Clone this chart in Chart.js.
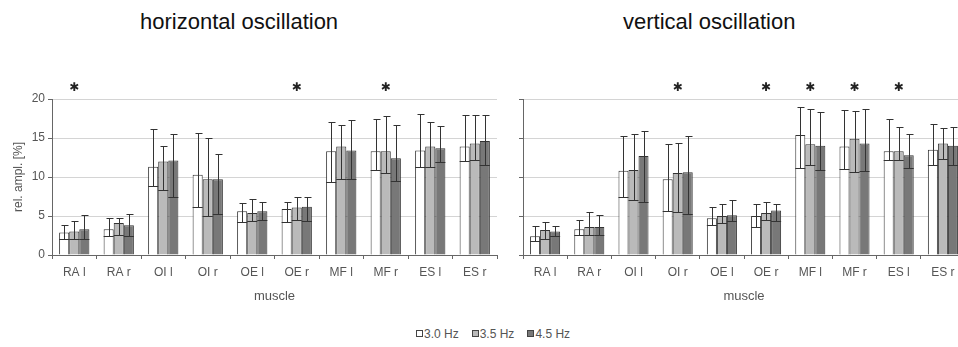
<!DOCTYPE html>
<html>
<head>
<meta charset="utf-8">
<script src="https://cdn.jsdelivr.net/npm/chart.js@4.4.0/dist/chart.umd.min.js"></script>
<style>
  body { margin: 0; width: 958px; height: 347px; overflow: hidden; background: #fff; font-family: "Liberation Sans", Arial, sans-serif; position: relative; }
  .title { position: absolute; top: 9px; font-size: 22px; color: #111; white-space: nowrap; }
  #wrapL { position: absolute; left: 0; top: 0; }
  #wrapR { position: absolute; left: 500px; top: 0; }
  #legend { position: absolute; top: 327px; left: 416px; font-size: 12px; color: #555; white-space: nowrap; }
  #legend span.item { display: inline-block; margin-right: 13px; }
  #legend span.box { display: inline-block; width: 5px; height: 5px; border: 1px solid #444; margin-right: 1px; vertical-align: 1px; }
</style>
</head>
<body>
<div class="title" style="left:140px">horizontal oscillation</div>
<div class="title" style="left:623px">vertical oscillation</div>
<div id="wrapL"><canvas id="chartL" width="500" height="310"></canvas></div>
<div id="wrapR"><canvas id="chartR" width="470" height="310"></canvas></div>
<div id="legend"></div>
<script>
const muscles = ['RA l', 'RA r', 'OI l', 'OI r', 'OE l', 'OE r', 'MF l', 'MF r', 'ES l', 'ES r'];
const freqs = ['3.0 Hz', '3.5 Hz', '4.5 Hz'];
const colors = ['#ffffff', '#bababa', '#787878'];
const yTicks = [0, 5, 10, 15, 20];

// horizontal oscillation: mean, upper whisker, lower line
const horMean30 = [2.9, 3.3, 11.3, 10.3, 5.6, 5.9, 13.3, 13.3, 13.4, 13.9];
const horMean35 = [3.0, 4.1, 12.0, 9.7, 5.4, 6.1, 13.9, 13.3, 13.9, 14.3];
const horMean45 = [3.3, 3.8, 12.1, 9.7, 5.6, 6.2, 13.4, 12.4, 13.7, 14.6];
const horUp30 = [3.9, 4.8, 16.1, 15.6, 6.7, 6.8, 17.0, 17.5, 18.1, 17.9];
const horUp35 = [4.4, 4.8, 14.0, 15.0, 7.2, 7.4, 16.7, 17.8, 17.0, 17.9];
const horUp45 = [5.1, 5.3, 15.5, 12.9, 6.8, 7.4, 17.3, 16.7, 16.5, 18.0];
const horLow30 = [2.0, 2.4, 8.9, 6.1, 4.2, 4.2, 9.3, 10.9, 11.3, 12.0];
const horLow35 = [2.0, 2.6, 8.3, 5.0, 4.3, 4.5, 9.8, 10.5, 11.3, 12.2];
const horLow45 = [2.0, 2.4, 7.5, 5.3, 4.5, 4.4, 9.7, 9.5, 11.9, 11.5];
const horSig = ['RA l', 'OE r', 'MF r'];

// vertical oscillation
const verMean30 = [2.4, 3.3, 10.8, 9.7, 4.7, 5.0, 15.4, 13.9, 13.3, 13.5];
const verMean35 = [3.2, 3.6, 10.9, 10.5, 5.0, 5.4, 14.2, 14.9, 13.3, 14.3];
const verMean45 = [3.0, 3.6, 12.7, 10.6, 5.1, 5.7, 14.0, 14.3, 12.8, 14.0];
const verUp30 = [3.7, 4.5, 15.3, 14.2, 6.1, 6.6, 19.0, 18.6, 17.4, 16.8];
const verUp35 = [4.2, 5.5, 15.5, 14.3, 6.6, 6.8, 18.7, 18.5, 16.4, 16.3];
const verUp45 = [3.7, 5.1, 15.9, 15.3, 7.1, 6.6, 18.3, 18.7, 15.5, 16.4];
const verLow30 = [1.8, 2.6, 7.5, 5.6, 3.9, 3.6, 11.2, 11.0, 12.2, 11.5];
const verLow35 = [2.1, 2.6, 7.1, 5.5, 4.1, 4.5, 11.6, 10.6, 12.2, 12.3];
const verLow45 = [2.4, 2.6, 6.8, 5.3, 4.3, 4.4, 10.9, 10.8, 11.2, 11.6];
const verSig = ['OI r', 'OE r', 'MF l', 'MF r', 'ES l'];

const tickColor = '#555';
const axisColor = '#666';

// legend
document.getElementById('legend').innerHTML = freqs.map((f, i) =>
    '<span class="item"><span class="box" style="background:' + colors[i] + '"></span>' + f + '</span>').join('');

// error bars: line from lower value to upper whisker, cap on top, lower line across the bar
const errorBars = {
    id: 'errorBars',
    afterDatasetsDraw(chart, args, opts) {
        const ctx = chart.ctx;
        const y = chart.scales.y;
        ctx.save();
        ctx.strokeStyle = '#333';
        ctx.lineWidth = 1;
        chart.data.datasets.forEach((ds, i) => {
            chart.getDatasetMeta(i).data.forEach((bar, j) => {
                const x = Math.round(bar.x) + 0.5;
                const half = bar.width / 2;
                const yUp = Math.round(y.getPixelForValue(ds.upper[j])) + 0.5;
                const yLow = Math.round(y.getPixelForValue(ds.lower[j])) + 0.5;
                ctx.beginPath();
                ctx.moveTo(x, yLow);
                ctx.lineTo(x, yUp);
                ctx.moveTo(x - 3, yUp);
                ctx.lineTo(x + 4, yUp);
                ctx.moveTo(bar.x - half, yLow);
                ctx.lineTo(bar.x + half, yLow);
                ctx.stroke();
            });
        });
        ctx.restore();
    }
};

// significance markers above the plot
const sigMarks = {
    id: 'sigMarks',
    afterDraw(chart, args, opts) {
        const ctx = chart.ctx;
        const x = chart.scales.x;
        ctx.save();
        ctx.fillStyle = '#222';
        ctx.font = '12px "DejaVu Sans"';
        ctx.textAlign = 'center';
        ctx.textBaseline = 'middle';
        opts.labels.forEach(m => {
            const idx = muscles.indexOf(m);
            ctx.fillText('\u2731', x.getPixelForValue(idx), chart.chartArea.top - 11);
        });
        ctx.restore();
    }
};

function makeChart(id, means, uppers, lowers, sig, showY, yWidth, padRight) {
    const ctx = document.getElementById(id).getContext('2d');
    return new Chart(ctx, {
        type: 'bar',
        data: {
            labels: muscles,
            datasets: freqs.map((f, i) => ({
                label: f,
                data: means[i],
                upper: uppers[i],
                lower: lowers[i],
                backgroundColor: colors[i],
                borderColor: '#333',
                borderWidth: 1,
                barPercentage: 1,
                categoryPercentage: 0.68,
            })),
        },
        options: {
            responsive: false,
            animation: false,
            layout: { padding: { top: 99, right: padRight, left: 0, bottom: 0 } },
            plugins: {
                legend: { display: false },
                tooltip: { enabled: false },
                sigMarks: { labels: sig },
            },
            scales: {
                x: {
                    grid: { drawOnChartArea: false, offset: true, tickLength: 4, color: axisColor },
                    border: { color: axisColor },
                    ticks: { color: tickColor, font: { size: 12, family: 'Liberation Sans' }, padding: 6, maxRotation: 0 },
                    title: { display: true, text: 'muscle', color: tickColor, font: { size: 13, family: 'Liberation Sans' }, padding: { top: 0, bottom: 6 } },
                    afterFit: s => { s.height = 55; },
                },
                y: {
                    min: 0,
                    max: 20,
                    afterBuildTicks: s => { s.ticks = yTicks.map(v => ({ value: v })); },
                    grid: { color: '#d4d4d4', tickLength: 4, tickColor: axisColor },
                    border: { color: axisColor },
                    ticks: { display: showY, color: tickColor, font: { size: 12, family: 'Liberation Sans' }, padding: 3 },
                    title: { display: showY, text: 'rel. ampl. [%]', color: tickColor, font: { size: 12, family: 'Liberation Sans' }, padding: { top: 11, bottom: 0 } },
                    afterFit: s => { s.width = yWidth; },
                },
            },
        },
        plugins: [errorBars, sigMarks],
    });
}

makeChart('chartL', [horMean30, horMean35, horMean45], [horUp30, horUp35, horUp45], [horLow30, horLow35, horLow45], horSig, true, 52, 3);
makeChart('chartR', [verMean30, verMean35, verMean45], [verUp30, verUp35, verUp45], [verLow30, verLow35, verLow45], verSig, false, 23, 5);
</script>
</body>
</html>
